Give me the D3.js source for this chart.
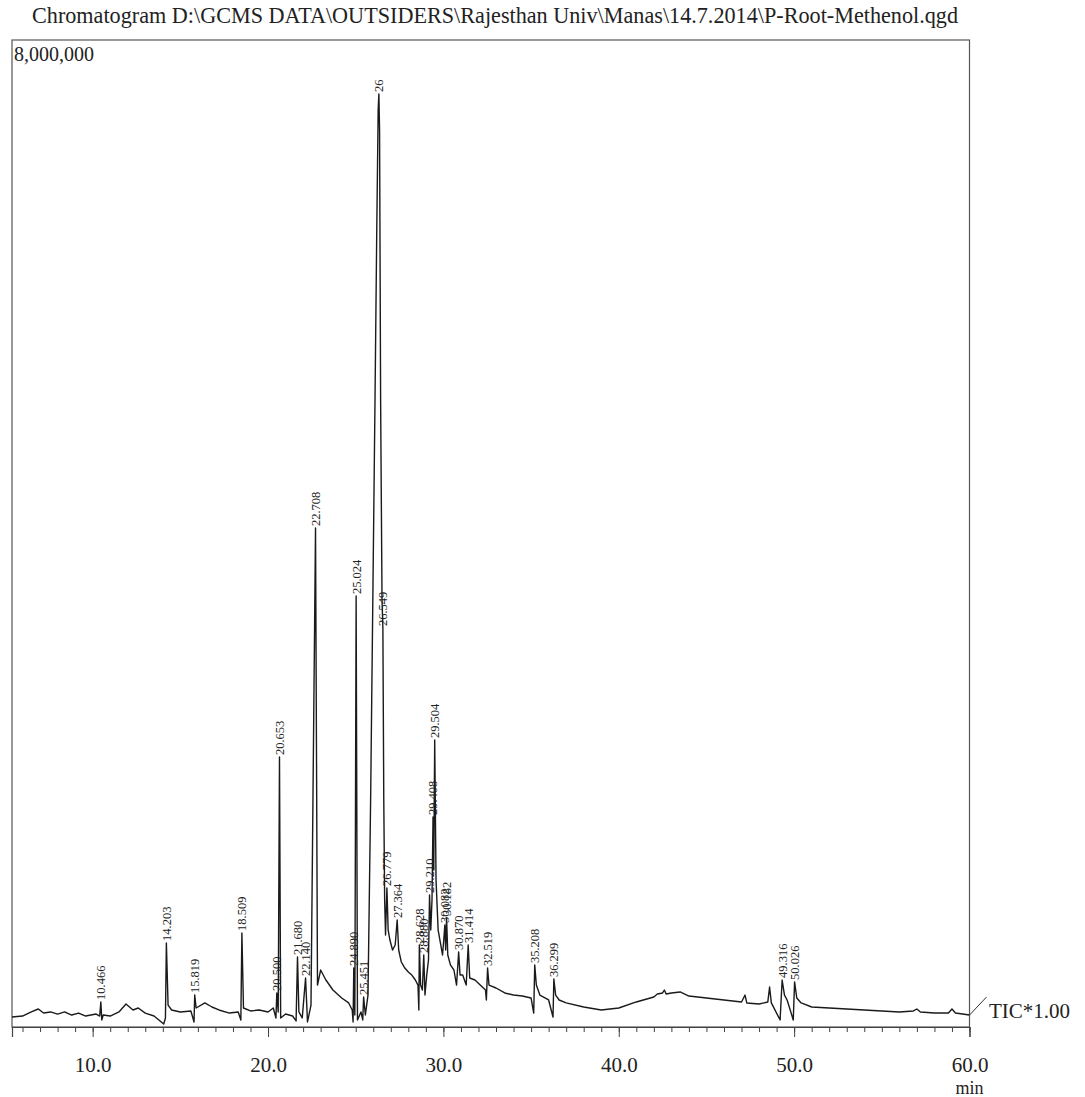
<!DOCTYPE html>
<html>

<head>
  <title>Chromatogram</title>
  <style>
    body { margin: 0; background: #fff; }
    text { font-family: "Liberation Serif", "Times New Roman", serif; fill: #222; }
  </style>
</head>

<body>
  <svg id="chart"></svg>

  <script src="https://d3js.org/d3.v7.min.js"></script>
  <script>
    // retention time (min) and TIC intensity
    const traceTime = [
      5.4, 6.0, 6.5, 6.9, 7.2, 7.6, 8.0, 8.4, 8.8, 9.2, 9.6, 10.2, 10.40, 10.466, 10.52, 10.6,
      11.0, 11.5, 11.9, 12.3, 12.6, 13.0, 13.5, 14.05, 14.15, 14.203, 14.30, 14.5, 15.0, 15.6,
      15.78, 15.819, 15.9, 16.4, 16.8, 17.2, 17.8, 18.3, 18.45, 18.509, 18.6, 19.0, 19.5, 20.0,
      20.3, 20.45, 20.500, 20.58, 20.653, 20.72, 21.0, 21.4, 21.60, 21.680, 21.76, 21.95, 22.140,
      22.25, 22.45, 22.708, 22.82, 23.0, 23.3, 23.7, 24.2, 24.6, 24.8, 24.85, 24.890, 24.95,
      25.024, 25.10, 25.30, 25.40, 25.451, 25.55, 25.70, 25.85, 26.0, 26.1, 26.2, 26.28, 26.32,
      26.36, 26.42, 26.50, 26.549, 26.60, 26.65, 26.70, 26.779, 26.85, 26.95, 27.1, 27.25, 27.364,
      27.45, 27.6, 27.8, 28.0, 28.2, 28.4, 28.55, 28.60, 28.628, 28.70, 28.80, 28.880, 28.95,
      29.05, 29.15, 29.210, 29.28, 29.35, 29.408, 29.45, 29.504, 29.58, 29.70, 29.85, 29.95,
      30.02, 30.082, 30.13, 30.182, 30.25, 30.40, 30.6, 30.75, 30.870, 30.95, 31.1, 31.3, 31.414,
      31.5, 31.8, 32.1, 32.4, 32.45, 32.519, 32.6, 33.0, 33.5, 34.0, 34.5, 35.0, 35.15, 35.208,
      35.3, 35.5, 36.0, 36.25, 36.299, 36.4, 36.6, 37.0, 38.0, 39.0, 40.0, 41.0, 42.0, 42.2, 42.5,
      42.6, 42.7, 43.0, 43.5, 44.0, 45.0, 46.0, 47.0, 47.2, 47.3, 48.0, 48.5, 48.6, 48.7, 49.2,
      49.316, 49.45, 49.6, 49.95, 50.026, 50.15, 50.4, 51.0, 52.0, 53.0, 54.0, 55.0, 56.0, 56.8,
      57.0, 57.2, 58.0, 58.8, 59.0, 59.2, 59.6, 60.0
    ];
    const traceIntensity = [
      81000, 89000, 122000, 146000, 113000, 122000, 105000, 122000, 97000, 113000, 89000, 105000, 89000, 203000, 57000, 97000,
      89000, 122000, 186000, 138000, 154000, 113000, 89000, 24000, 73000, 681000, 178000, 138000, 122000, 130000,
      41000, 259000, 154000, 195000, 162000, 138000, 113000, 122000, 57000, 762000, 154000, 130000, 138000, 122000,
      154000, 73000, 276000, 122000, 2188000, 73000, 105000, 89000, 49000, 567000, 122000, 73000, 397000,
      41000, 178000, 4044000, 340000, 462000, 381000, 300000, 235000, 195000, 138000, 41000, 478000, 97000,
      3493000, 57000, 122000, 57000, 243000, 97000, 259000, 1840000, 3785000, 5082000, 6460000, 7432000, 7562000,
      7270000, 5082000, 3461000, 3234000, 1840000, 1029000, 746000, 1127000, 786000, 705000, 624000, 665000, 867000,
      624000, 527000, 478000, 446000, 421000, 381000, 340000, 138000, 665000, 340000, 300000, 584000, 259000,
      421000, 543000, 1070000, 786000, 1029000, 1702000, 1273000, 2326000, 1191000, 786000, 665000, 584000,
      705000, 827000, 624000, 883000, 584000, 503000, 462000, 340000, 608000, 421000, 421000, 340000, 665000,
      397000, 381000, 340000, 300000, 219000, 478000, 340000, 316000, 276000, 259000, 251000, 235000, 113000, 502000,
      340000, 259000, 219000, 81000, 389000, 259000, 219000, 195000, 162000, 138000, 154000, 203000, 243000, 267000, 276000,
      300000, 267000, 276000, 284000, 251000, 235000, 219000, 203000, 259000, 195000, 186000, 203000, 324000, 195000, 57000,
      381000, 259000, 219000, 57000, 365000, 235000, 195000, 162000, 154000, 146000, 138000, 130000, 122000, 130000,
      146000, 122000, 113000, 113000, 146000, 113000, 105000, 97000
    ];

    // labelled peaks (retention times as printed)
    const peakTimes = [10.466, 14.203, 15.819, 18.509, 20.500, 20.653, 21.680, 22.140, 22.708, 24.890,
      25.024, 25.451, 26.32, 26.549, 26.779, 27.364, 28.628, 28.880, 29.210, 29.408, 29.504,
      30.082, 30.182, 30.870, 31.414, 32.519, 35.208, 36.299, 49.316, 50.026];
    const peakLabels = ["10.466", "14.203", "15.819", "18.509", "20.500", "20.653", "21.680", "22.140", "22.708", "24.890",
      "25.024", "25.451", "26", "26.549", "26.779", "27.364", "28.628", "28.880", "29.210", "29.408", "29.504",
      "30.082", "30.182", "30.870", "31.414", "32.519", "35.208", "36.299", "49.316", "50.026"];

    const majorTicks = [10, 20, 30, 40, 50, 60];
    const yMaxLabel = "8,000,000";
    const title = "Chromatogram D:\\GCMS DATA\\OUTSIDERS\\Rajesthan Univ\\Manas\\14.7.2014\\P-Root-Methenol.qgd";

    let width = 1085, height = 1097;
    let plot = { left: 12, right: 969.5, top: 40, bottom: 1027 };

    const svg = d3.select("#chart")
      .attr("width", width)
      .attr("height", height);

    svg.append("rect")
      .attr("width", width)
      .attr("height", height)
      .attr("fill", "#fff");

    let xScale = d3.scaleLinear().domain([5.4, 60]).range([plot.left, plot.right]);
    let yScale = d3.scaleLinear().domain([0, 8000000]).range([plot.bottom, plot.top]);

    // title (condensed to the printed width)
    svg.append("text")
      .attr("x", 32)
      .attr("y", 23)
      .attr("font-size", 23)
      .attr("textLength", 926)
      .attr("lengthAdjust", "spacingAndGlyphs")
      .text(title);

    // frame
    svg.append("rect")
      .attr("x", plot.left)
      .attr("y", plot.top)
      .attr("width", plot.right - plot.left)
      .attr("height", plot.bottom - plot.top)
      .attr("fill", "none")
      .attr("stroke", "#555")
      .attr("stroke-width", 1.2);

    svg.append("text")
      .attr("x", plot.left + 2)
      .attr("y", 61)
      .attr("font-size", 20)
      .text(yMaxLabel);

    // minor ticks every minute
    let minorAxis = d3.axisBottom(xScale)
      .tickValues(xScale.ticks(55))
      .tickSize(5)
      .tickFormat("");
    svg.append("g")
      .attr("transform", `translate(0, ${plot.bottom})`)
      .call(minorAxis)
      .call(g => g.select(".domain").remove())
      .selectAll("line").attr("stroke", "#444");

    let majorAxis = d3.axisBottom(xScale)
      .tickValues(majorTicks)
      .tickSize(10)
      .tickPadding(20)
      .tickFormat(d3.format(".1f"));
    let xAxis = svg.append("g")
      .attr("transform", `translate(0, ${plot.bottom})`)
      .call(majorAxis);
    xAxis.select(".domain").attr("stroke", "#444").attr("stroke-width", 1.2);
    xAxis.selectAll("line").attr("stroke", "#444");
    xAxis.selectAll("text")
      .attr("font-size", 21)
      .attr("font-family", "Liberation Serif, serif")
      .attr("fill", "#222");

    svg.append("text")
      .attr("x", xScale(60))
      .attr("y", 1094)
      .attr("text-anchor", "middle")
      .attr("font-size", 18)
      .text("min");

    // TIC trace
    let points = traceTime.map((t, i) => [t, traceIntensity[i]]);
    let line = d3.line()
      .x(d => xScale(d[0]))
      .y(d => yScale(d[1]));

    svg.append("path")
      .datum(points)
      .attr("d", line)
      .attr("fill", "none")
      .attr("stroke", "#1a1a1a")
      .attr("stroke-width", 1.4)
      .attr("stroke-linejoin", "round");

    // peak labels, rotated above each apex
    svg.append("g")
      .selectAll("text")
      .data(peakTimes)
      .join("text")
      .attr("transform", (t, i) => {
        let v = traceIntensity[traceTime.indexOf(t)];
        return `translate(${xScale(t)}, ${yScale(v) - 2}) rotate(-90)`;
      })
      .attr("dy", "0.35em")
      .attr("font-size", 12.5)
      .attr("fill", "#333")
      .text((t, i) => peakLabels[i]);

    // trace end marker and label
    let last = points[points.length - 1];
    svg.append("line")
      .attr("x1", xScale(last[0]))
      .attr("y1", yScale(last[1]))
      .attr("x2", xScale(last[0]) + 17)
      .attr("y2", yScale(last[1]) - 18)
      .attr("stroke", "#333")
      .attr("stroke-width", 1);

    svg.append("text")
      .attr("x", 989)
      .attr("y", 1018)
      .attr("font-size", 21)
      .text("TIC*1.00");
  </script>
</body>

</html>
